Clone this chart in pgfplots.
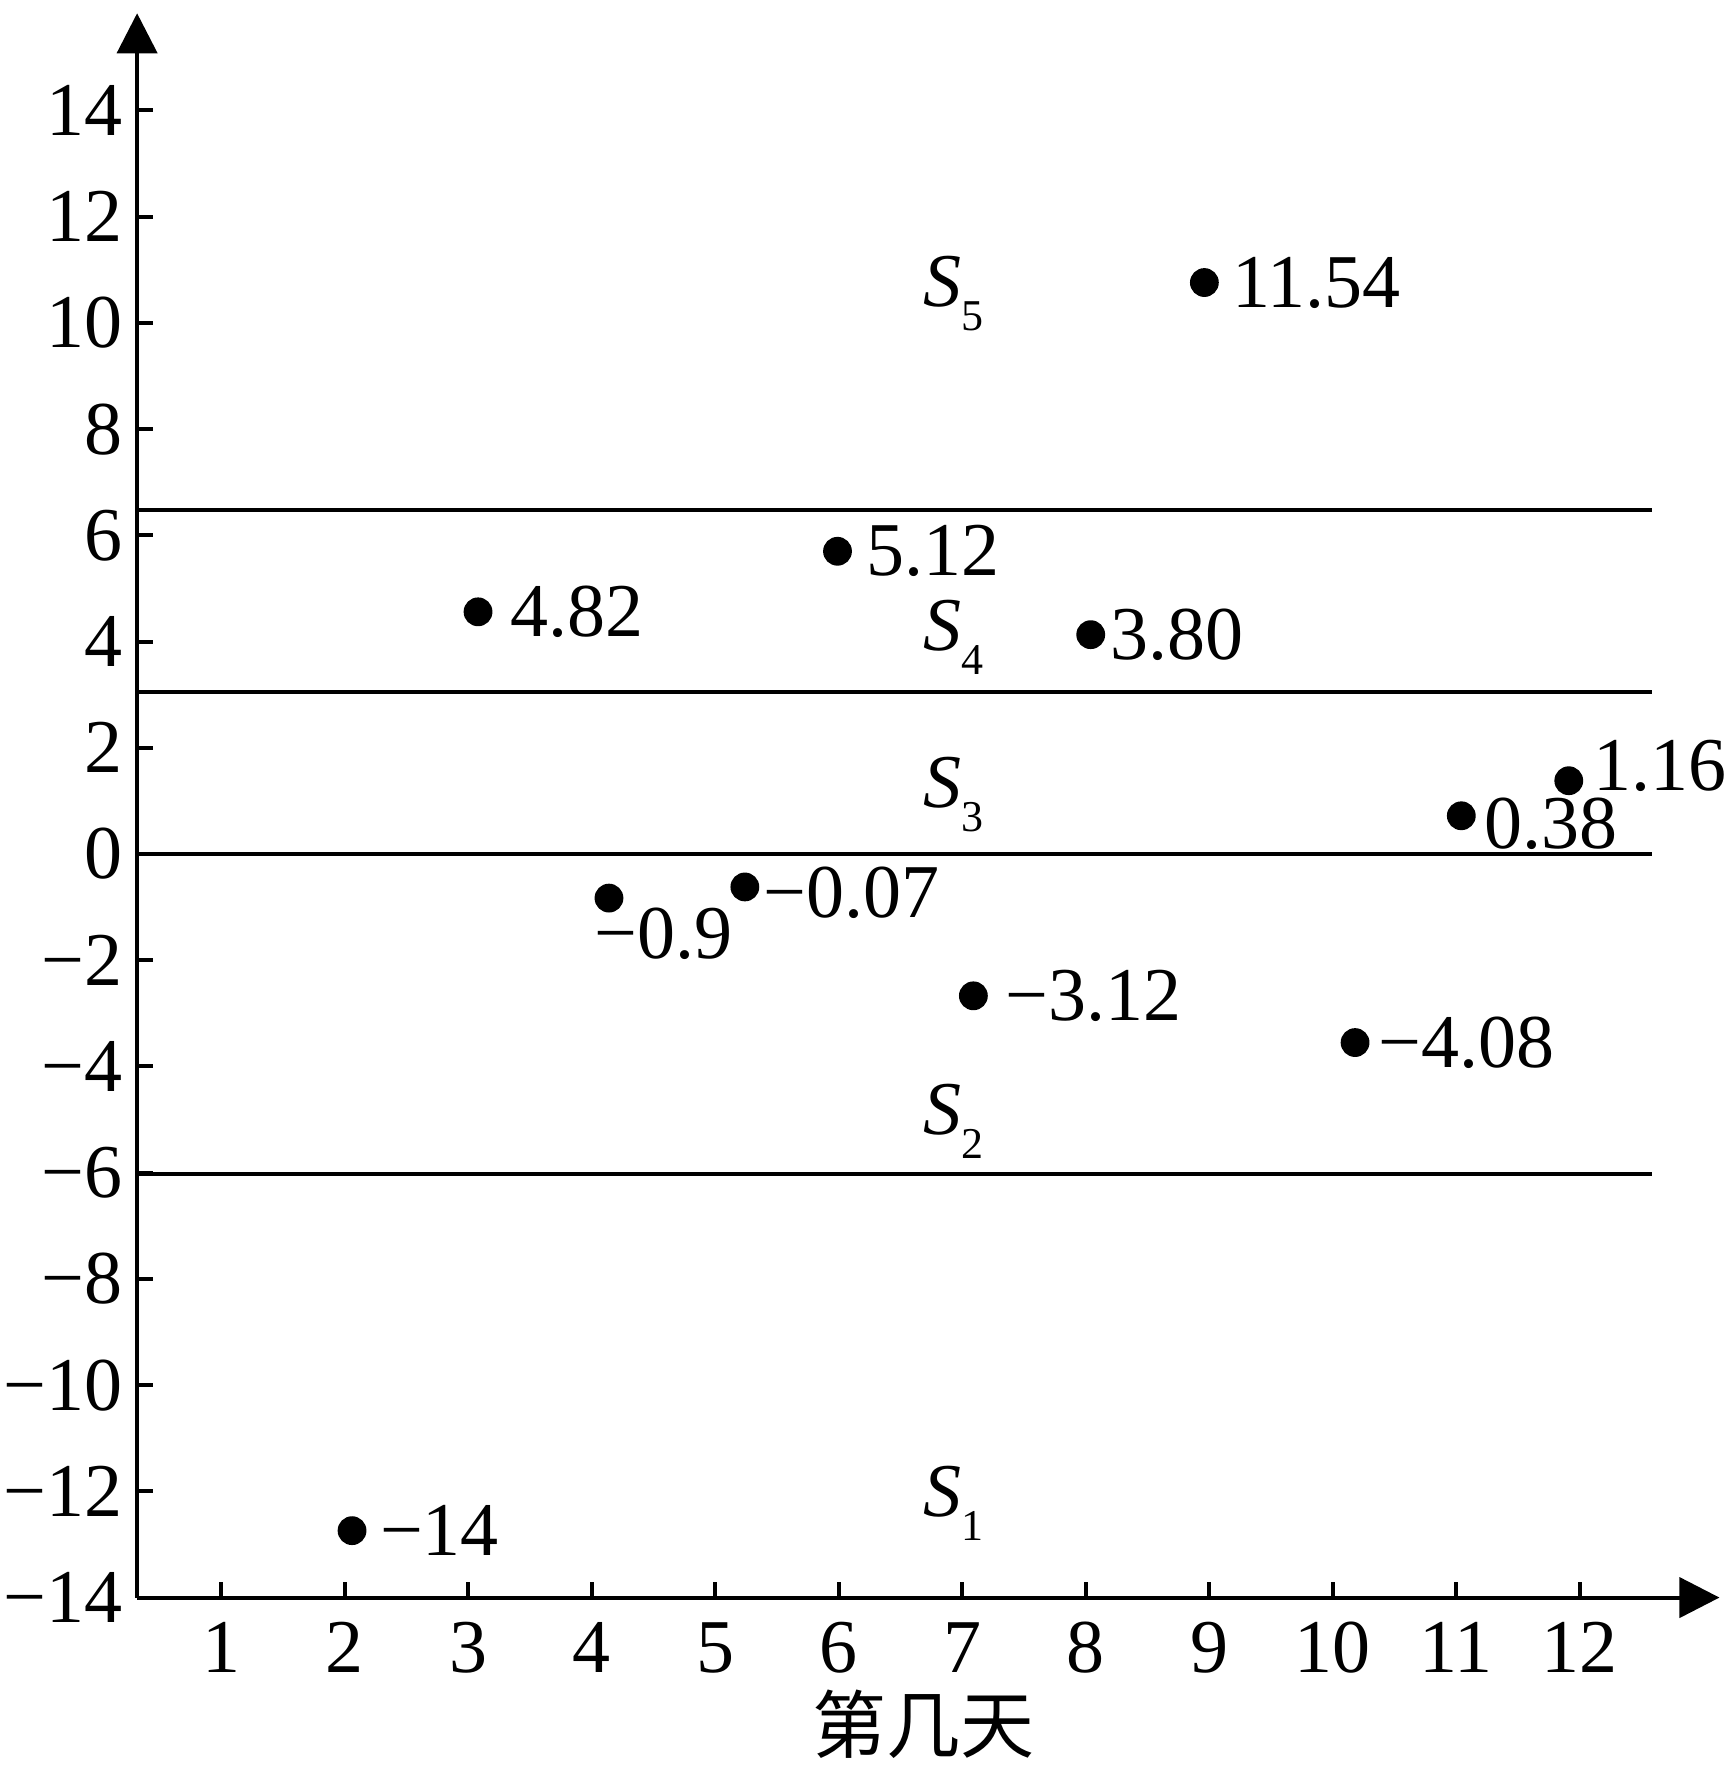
\documentclass[border=0pt]{standalone}
\usepackage{fontspec}
\setmainfont{Liberation Serif}
\newfontfamily\cjk{Noto Sans CJK SC}
\usepackage{pgfplots}
\usepackage{pgfplotstable}
\pgfplotsset{compat=1.18}
\usetikzlibrary{arrows.meta}

% points: x, y, label offset (pt), label
\pgfplotstableread{
x     y      dx    dy    lbl
2.06  -12.74 6.8   0     −14
3.08  4.56   7.9   0     4.82
4.14  -0.83  -3.8  -9.0  −0.9
5.24  -0.62  4.5   -1.5  −0.07
5.99  5.70   7.0   0     5.12
7.09  -2.67  7.9   0     −3.12
8.04  4.13   4.8   0     3.80
8.96  10.76  6.8   0     11.54
10.18 -3.55  5.6   0     −4.08
11.04 0.72   5.5   -2.0  0.38
11.91 1.38   6.0   3.6   1.16
}\pts

\newcommand{\sub}[1]{\textit{S}\raisebox{-6pt}{\fontsize{11}{11}\selectfont #1}}

\begin{document}
\begin{tikzpicture}
\begin{axis}[
  x=30.875pt, y=13.275pt,
  xmin=0.32, xmax=13.13, ymin=-14, ymax=15.83,
  axis lines=left,
  axis line style={line width=1pt, -{Triangle[length=10pt,width=10pt]}},
  tick align=inside, major tick length=4pt,
  tick style={line width=1pt, black},
  xtick={1,...,12},
  xticklabels={1,2,3,4,5,6,7,8,9,10,11,12},
  ytick={-14,-12,...,14},
  yticklabels={−14,−12,−10,−8,−6,−4,−2,0,2,4,6,8,10,12,14},
  tick label style={font=\fontsize{19}{19}\selectfont, inner sep=0pt},
  xticklabel style={anchor=north, yshift=-6pt},
  yticklabel style={anchor=east, xshift=-3.5pt},
  xlabel={\cjk 第几天},
  xlabel style={font=\fontsize{18.5}{18.5}\selectfont, at={(axis description cs:0.497,0)}, anchor=north, yshift=-23pt, inner sep=0pt},
  clip=false,
]
\addplot[black, line width=1pt] coordinates {(0.32,6.47) (12.58,6.47)};
\addplot[black, line width=1pt] coordinates {(0.32,3.05) (12.58,3.05)};
\addplot[black, line width=1pt] coordinates {(0.32,0) (12.58,0)};
\addplot[black, line width=1pt] coordinates {(0.32,-6.03) (12.58,-6.03)};

\addplot[only marks, mark=*, mark size=3.4pt, black,
  point meta=explicit symbolic,
  visualization depends on={\thisrow{dx} \as \dx},
  visualization depends on={\thisrow{dy} \as \dy},
  nodes near coords,
  nodes near coords style={anchor=west, inner sep=0pt, font=\fontsize{19}{19}\selectfont, xshift=\dx, yshift=\dy},
] table[x=x, y=y, meta=lbl] {\pts};

\node[anchor=base west, inner sep=0pt, font=\fontsize{19}{19}\selectfont] at (axis cs:6.68,10.30) {\sub{5}};
\node[anchor=base west, inner sep=0pt, font=\fontsize{19}{19}\selectfont] at (axis cs:6.68,3.84) {\sub{4}};
\node[anchor=base west, inner sep=0pt, font=\fontsize{19}{19}\selectfont] at (axis cs:6.68,0.87) {\sub{3}};
\node[anchor=base west, inner sep=0pt, font=\fontsize{19}{19}\selectfont] at (axis cs:6.68,-5.29) {\sub{2}};
\node[anchor=base west, inner sep=0pt, font=\fontsize{19}{19}\selectfont] at (axis cs:6.68,-12.47) {\sub{1}};

\coordinate (bbsw) at (axis cs:-0.79,-17.19);
\coordinate (bbne) at (axis cs:13.22,16.08);
\end{axis}
\pgfresetboundingbox
\path (bbsw) rectangle (bbne);
\end{tikzpicture}
\end{document}
